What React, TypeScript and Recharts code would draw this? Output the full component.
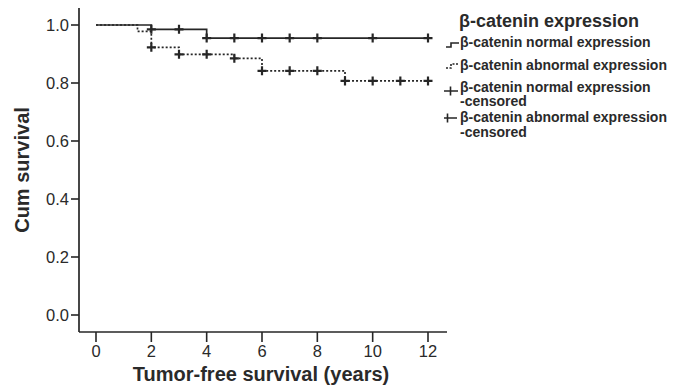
import React from "react";
import { ComposedChart, Line, Scatter, XAxis, YAxis } from "recharts";

// axis ticks
const yearTicks = [0, 2, 4, 6, 8, 10, 12];
const survivalTicks = [0, 0.2, 0.4, 0.6, 0.8, 1.0];

// Kaplan-Meier steps, normal expression
const normalTimes = [0, 2, 4, 12];
const normalSurvival = [1.0, 0.985, 0.955, 0.955];

// Kaplan-Meier steps, abnormal expression
const abnormalTimes = [0, 1.5, 2, 3, 5, 6, 9, 12];
const abnormalSurvival = [1.0, 0.978, 0.923, 0.899, 0.885, 0.842, 0.807, 0.807];

// censored cases
const normalCensorTimes = [2, 3, 4, 5, 6, 7, 8, 10, 12];
const normalCensorSurvival = [0.985, 0.985, 0.955, 0.955, 0.955, 0.955, 0.955, 0.955, 0.955];
const abnormalCensorTimes = [2, 3, 4, 5, 6, 7, 8, 9, 10, 11, 12];
const abnormalCensorSurvival = [0.923, 0.899, 0.899, 0.885, 0.842, 0.842, 0.842, 0.807, 0.807, 0.807, 0.807];

const legendTitle = "β-catenin expression";
const legendLabels = [
  ["β-catenin normal expression"],
  ["β-catenin abnormal expression"],
  ["β-catenin normal expression", "-censored"],
  ["β-catenin abnormal expression", "-censored"],
];

const toPoints = (xs: number[], ys: number[]) => xs.map((t, i) => ({ t, s: ys[i] }));

const normalData = toPoints(normalTimes, normalSurvival);
const abnormalData = toPoints(abnormalTimes, abnormalSurvival);
const normalCensor = toPoints(normalCensorTimes, normalCensorSurvival);
const abnormalCensor = toPoints(abnormalCensorTimes, abnormalCensorSurvival);

const INK = "#262626";
const FONT = '"Liberation Sans", Arial, Helvetica, sans-serif';

function CensorMark(props: any) {
  const { cx, cy } = props;
  if (cx == null || cy == null) return null;
  return (
    <path
      d={`M${cx - 4.5},${cy} H${cx + 4.5} M${cx},${cy - 4.5} V${cy + 4.5}`}
      stroke={INK}
      strokeWidth={2.2}
      fill="none"
    />
  );
}

function XTitle(props: any) {
  const vb = props.viewBox || {};
  return (
    <text
      x={vb.x + vb.width / 2 - 2}
      y={vb.y + 49}
      textAnchor="middle"
      fontSize={20}
      fontWeight="bold"
      fill="#2a2a2a"
      fontFamily={FONT}
    >
      Tumor-free survival (years)
    </text>
  );
}

function YTitle(props: any) {
  const vb = props.viewBox || {};
  const cy = vb.y + vb.height / 2;
  return (
    <text
      x={22}
      y={cy}
      transform={`rotate(-90, 22, ${cy})`}
      textAnchor="middle"
      dominantBaseline="central"
      fontSize={20}
      fontWeight="bold"
      fill="#2a2a2a"
      fontFamily={FONT}
    >
      Cum survival
    </text>
  );
}

function KMLegend() {
  const tops = [35, 58, 79.5, 110];
  return (
    <>
      <svg
        width={673}
        height={387}
        style={{ position: "absolute", left: 0, top: 0, pointerEvents: "none" }}
      >
        <path d="M446,47 H451 V43 H459" stroke={INK} strokeWidth={1.6} fill="none" />
        <path d="M446,68 H451 V64 H459" stroke={INK} strokeWidth={1.6} fill="none" strokeDasharray="2 1.5" />
        <path d="M444,91 H458 M450.5,86.5 V95.5" stroke={INK} strokeWidth={1.6} fill="none" />
        <path d="M444,118 H457 M447.5,113.5 V122.5" stroke={INK} strokeWidth={1.6} fill="none" />
      </svg>
      <div
        style={{
          position: "absolute",
          left: 459,
          top: 11,
          fontSize: 18,
          lineHeight: "20px",
          fontWeight: "bold",
          color: "#2a2a2a",
          whiteSpace: "nowrap",
        }}
      >
        {legendTitle}
      </div>
      {legendLabels.map((lines, i) => (
        <div
          key={i}
          style={{
            position: "absolute",
            left: 460,
            top: tops[i],
            fontSize: 14,
            lineHeight: "14.5px",
            fontWeight: "bold",
            color: "#2a2a2a",
            whiteSpace: "nowrap",
          }}
        >
          {lines.map((l, j) => (
            <div key={j}>{l}</div>
          ))}
        </div>
      ))}
    </>
  );
}

export default function App() {
  return (
    <div
      style={{
        position: "relative",
        width: 673,
        height: 387,
        background: "#fff",
        fontFamily: FONT,
        overflow: "hidden",
      }}
    >
      <style>{`body{margin:0}`}</style>
      <ComposedChart width={673} height={387} margin={{ top: 8, right: 226, bottom: 0, left: 0 }}>
        <XAxis
          dataKey="t"
          type="number"
          domain={[0, 12]}
          ticks={yearTicks}
          padding={{ left: 17, right: 19 }}
          height={55}
          tickSize={10}
          tickMargin={3}
          tick={{ fontSize: 16.5, fill: "#2a2a2a" }}
          axisLine={{ stroke: INK, strokeWidth: 1.7 }}
          tickLine={{ stroke: INK, strokeWidth: 1.6 }}
          label={<XTitle />}
        />
        <XAxis
          xAxisId="top"
          orientation="top"
          type="number"
          domain={[0, 12]}
          height={0}
          tick={false}
          tickLine={false}
          axisLine={{ stroke: INK, strokeWidth: 1.7 }}
        />
        <YAxis
          dataKey="s"
          type="number"
          domain={[0, 1]}
          ticks={survivalTicks}
          padding={{ top: 17, bottom: 17 }}
          width={79}
          tickSize={8}
          tickMargin={2}
          tickFormatter={(v: number) => v.toFixed(1)}
          tick={{ fontSize: 16.5, fill: "#2a2a2a" }}
          axisLine={{ stroke: INK, strokeWidth: 1.7 }}
          tickLine={{ stroke: INK, strokeWidth: 1.6 }}
          label={<YTitle />}
        />
        <YAxis
          yAxisId="right"
          orientation="right"
          type="number"
          domain={[0, 1]}
          width={0}
          tick={false}
          tickLine={false}
          axisLine={{ stroke: INK, strokeWidth: 1.7 }}
        />
        <Line
          data={abnormalData}
          dataKey="s"
          type="stepAfter"
          stroke={INK}
          strokeWidth={1.7}
          strokeDasharray="2 2"
          dot={false}
          activeDot={false}
          isAnimationActive={false}
        />
        <Line
          data={normalData}
          dataKey="s"
          type="stepAfter"
          stroke={INK}
          strokeWidth={1.7}
          dot={false}
          activeDot={false}
          isAnimationActive={false}
        />
        <Scatter data={abnormalCensor} dataKey="s" shape={<CensorMark />} isAnimationActive={false} />
        <Scatter data={normalCensor} dataKey="s" shape={<CensorMark />} isAnimationActive={false} />
      </ComposedChart>
      <KMLegend />
    </div>
  );
}
